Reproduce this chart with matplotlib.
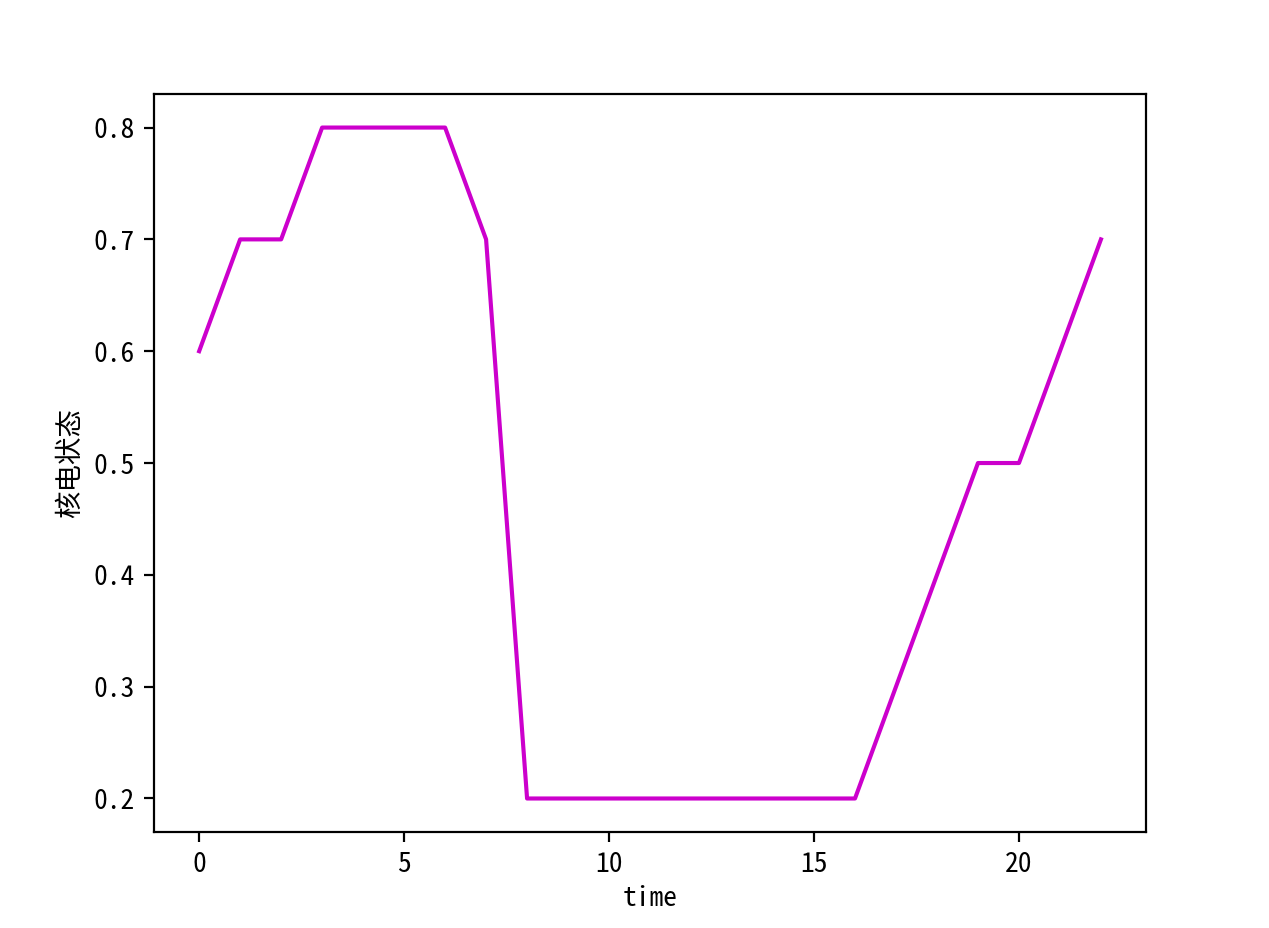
import matplotlib
matplotlib.use('Agg')
import matplotlib.pyplot as plt

plt.rcParams['font.family'] = ['Noto Sans Mono CJK SC', 'Noto Sans CJK SC', 'DejaVu Sans']
plt.rcParams['axes.unicode_minus'] = False

time = list(range(23))
state = [0.6, 0.7, 0.7, 0.8, 0.8, 0.8, 0.8, 0.7, 0.2, 0.2, 0.2, 0.2,
         0.2, 0.2, 0.2, 0.2, 0.2, 0.3, 0.4, 0.5, 0.5, 0.6, 0.7]

fig = plt.figure(figsize=(1269 / 198, 928 / 198), dpi=198)
ax = fig.add_axes([0.1214, 0.1034, 0.7817, 0.7953])
ax.plot(time, state, color='#cc00cc')
ax.set_xticks([0, 5, 10, 15, 20])
ax.set_xlabel('time', labelpad=2.3)
ax.set_ylabel('核电状态', labelpad=3.5)
fig.savefig('out.png', dpi=198)
